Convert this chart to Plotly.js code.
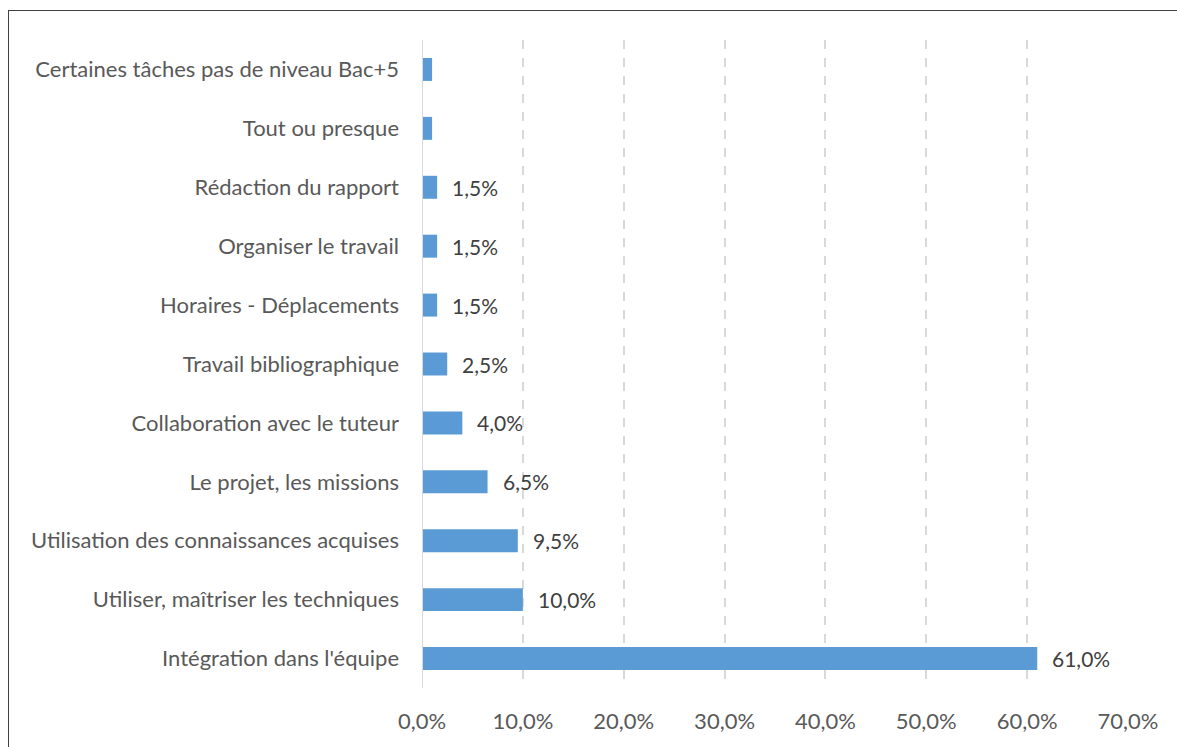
<!DOCTYPE html>
<html><head><meta charset="utf-8">
<script src="https://cdn.plot.ly/plotly-3.0.1.min.js"></script>
<style>
html,body{margin:0;padding:0;background:#fff;overflow:hidden;}
#chart{width:1177px;height:747px;position:absolute;left:0;top:0;}
#frame{position:absolute;left:8px;top:10px;width:1300px;height:900px;border:1px solid #404040;pointer-events:none;}
</style></head>
<body>
<div id="chart"></div>
<div id="frame"></div>
<script>
const categories = [
  "Intégration dans l'équipe",
  "Utiliser, maîtriser les techniques",
  "Utilisation des connaissances acquises",
  "Le projet, les missions",
  "Collaboration avec le tuteur",
  "Travail bibliographique",
  "Horaires - Déplacements",
  "Organiser le travail",
  "Rédaction du rapport",
  "Tout ou presque",
  "Certaines tâches pas de niveau Bac+5"
];
const values = [61.0, 10.0, 9.5, 6.5, 4.0, 2.5, 1.5, 1.5, 1.5, 1.0, 1.0];
const labels = ["61,0%", "10,0%", "9,5%", "6,5%", "4,0%", "2,5%", "1,5%", "1,5%", "1,5%", "", ""];
const tickValues = [0, 10, 20, 30, 40, 50, 60, 70];
const tickLabels = ["0,0%", "10,0%", "20,0%", "30,0%", "40,0%", "50,0%", "60,0%", "70,0%"];

const FONT = "Lato, 'Open Sans', sans-serif";

const trace = {
  type: 'bar', orientation: 'h',
  x: values, y: categories,
  marker: {color: '#5B9BD5'},
  hoverinfo: 'skip'
};

const annotations = [];
labels.forEach((t, i) => {
  if (t) annotations.push({
    x: values[i], y: categories[i], xref: 'x', yref: 'y',
    text: t, showarrow: false, xanchor: 'left', xshift: 13,
    font: {family: FONT, size: 21, color: '#404040'}
  });
});

const layout = {
  width: 1177, height: 747,
  margin: {l: 422, r: 49, t: 40, b: 59, pad: 0},
  paper_bgcolor: '#fff', plot_bgcolor: '#fff',
  bargap: 0.61,
  showlegend: false,
  xaxis: {
    range: [0, 70], tickvals: tickValues, ticktext: tickLabels,
    showgrid: true, gridcolor: '#D9D9D9', griddash: 'dash', gridwidth: 2,
    zeroline: false, showline: false, ticks: '',
    ticklabelstandoff: 18,
    tickfont: {family: FONT, size: 22, color: '#595959'},
    fixedrange: true
  },
  yaxis: {
    type: 'category', categoryorder: 'array', categoryarray: categories,
    showgrid: false, zeroline: false, showline: false, ticks: '',
    ticklabelstandoff: 22,
    tickfont: {family: FONT, size: 22, color: '#595959'},
    fixedrange: true
  },
  shapes: [{type: 'line', xref: 'x', yref: 'paper', x0: 0, x1: 0, y0: 0, y1: 1,
            line: {color: '#D9D9D9', width: 2}}],
  annotations: annotations
};

Plotly.newPlot('chart', [trace], layout, {displayModeBar: false, staticPlot: true});
</script>
</body></html>
